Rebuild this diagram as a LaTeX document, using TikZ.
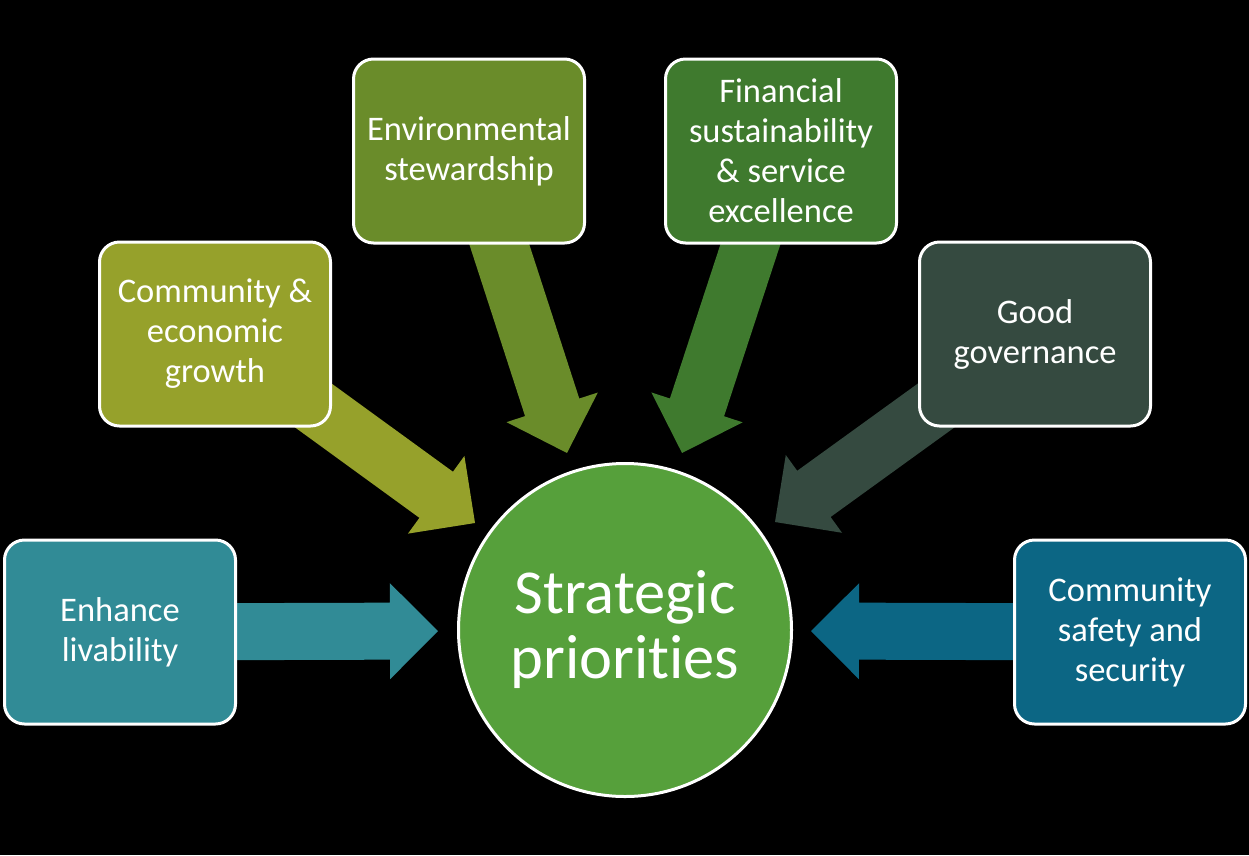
\documentclass[tikz,border=0pt]{standalone}
\usepackage{fontspec}
\setmainfont{Carlito}[Ligatures=NoCommon]
\usetikzlibrary{calc}
\pgfdeclarelayer{back}
\pgfsetlayers{back,main}
\definecolor{cLiv}{RGB}{49,139,150}
\definecolor{cEco}{RGB}{150,161,43}
\definecolor{cEnv}{RGB}{106,140,42}
\definecolor{cFin}{RGB}{63,122,46}
\definecolor{cGov}{RGB}{53,74,64}
\definecolor{cSaf}{RGB}{12,102,132}
\definecolor{cMid}{RGB}{86,160,59}
\newcommand\blockarrow[3]{%
  \fill[#3] let \p1=(#1), \p2=(#2), \n1={atan2(\y2-\y1,\x2-\x1)}, \n2={veclen(\x2-\x1,\y2-\y1)} in
    [shift={(\p1)}, rotate=\n1]
    (0pt,-28.5pt) -- (\n2-48pt,-28.5pt) -- (\n2-48pt,-48pt) -- (\n2,0pt) --
    (\n2-48pt,48pt) -- (\n2-48pt,28.5pt) -- (0pt,28.5pt) -- cycle;}
\tikzset{
  prio/.style={draw=white, line width=3pt, rounded corners=20pt, minimum width=231pt,
    minimum height=184pt, text=white, align=center, inner sep=2pt,
    font=\fontsize{34.5}{40}\selectfont},
  hub/.style={circle, draw=white, line width=3pt, fill=cMid, minimum size=333pt,
    text=white, align=center, font=\fontsize{62.5}{65}\selectfont}
}
\begin{document}
\begin{tikzpicture}[x=1pt,y=-1pt]
\begin{pgfonlayer}{back}
\fill[black] (0,0) rectangle (1249,855);
\end{pgfonlayer}
\useasboundingbox (0,0) rectangle (1249,855);

\node[prio, fill=cLiv] (liv) at (120,632) {Enhance\\livability};
\node[prio, fill=cEco] (eco) at (215,334) {Community \&\\economic\\growth};
\node[prio, fill=cEnv] (env) at (469,151) {Environmental\\stewardship};
\node[prio, fill=cFin] (fin) at (781,151) {Financial\\sustainability\\\& service\\excellence};
\node[prio, fill=cGov] (gov) at (1035,334) {Good\\governance};
\node[prio, fill=cSaf] (saf) at (1130,632) {Community\\safety and\\security};
\node[hub] (hub) at (625,630) {Strategic\\priorities};

\coordinate (t1) at (438,631);
\coordinate (t2) at (475,523);
\coordinate (t3) at (567,453);
\coordinate (t4) at (682,453);
\coordinate (t5) at (775,522);
\coordinate (t6) at (811,631);

\begin{pgfonlayer}{back}
\blockarrow{liv.center}{t1}{cLiv}
\blockarrow{eco.center}{t2}{cEco}
\blockarrow{env.center}{t3}{cEnv}
\blockarrow{fin.center}{t4}{cFin}
\blockarrow{gov.center}{t5}{cGov}
\blockarrow{saf.center}{t6}{cSaf}
\end{pgfonlayer}
\end{tikzpicture}
\end{document}
